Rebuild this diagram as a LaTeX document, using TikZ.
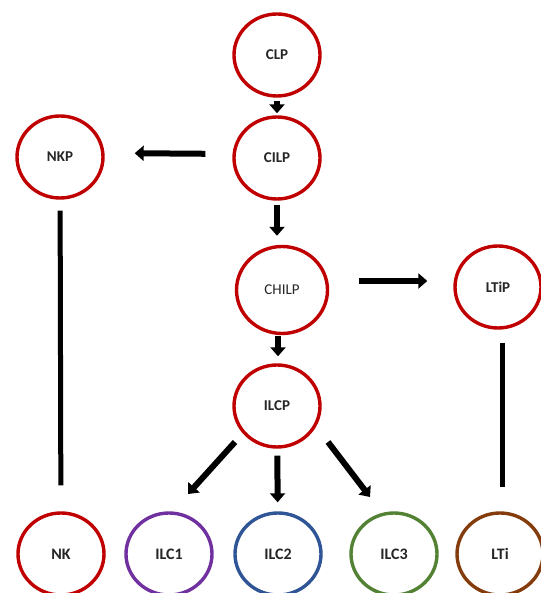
\documentclass[tikz,border=0pt]{standalone}
\usepackage{fontspec}
\setmainfont{Carlito}
\usetikzlibrary{arrows.meta,shapes.geometric}
\definecolor{cellred}{HTML}{C00000}
\definecolor{cellpurple}{HTML}{7030A0}
\definecolor{cellblue}{HTML}{2F5597}
\definecolor{cellgreen}{HTML}{548235}
\definecolor{cellbrown}{HTML}{843C0C}
\tikzset{
  cell/.style={ellipse, draw=cellred, line width=3.4pt, fill=white,
    minimum width=86pt, minimum height=82pt, inner sep=0pt,
    font=\fontsize{15}{15}\selectfont\bfseries, text=black!85},
  leaf/.style={cell, font=\fontsize{16}{16}\selectfont\bfseries},
  arr/.style={line width=6pt, draw=black,
    -{Triangle[width=15pt,length=9pt]}},
  link/.style={line width=5pt, draw=black},
}
\begin{document}
\begin{tikzpicture}[x=1pt,y=1pt]
\useasboundingbox (0,0) rectangle (540,593);
% progenitors (y measured upward from the bottom edge)
\node[cell] (CLP)   at (277,538) {CLP};
\node[cell] (CILP)  at (277,435) {CILP};
\node[cell] (NKP)   at (60,436)  {NKP};
\node[cell, minimum width=91pt, minimum height=87pt,
      font=\fontsize{15}{15}\selectfont] (CHILP) at (282,303) {CHILP};
\node[cell] (LTiP)  at (498,306) {LTiP};
\node[cell] (ILCP)  at (277,187) {ILCP};
% mature cells
\node[leaf] (NK)   at (61,39)  {NK};
\node[leaf, draw=cellpurple] (ILC1) at (169,39) {ILC1};
\node[leaf, draw=cellblue]   (ILC2) at (278,39) {ILC2};
\node[leaf, draw=cellgreen]  (ILC3) at (394,39) {ILC3};
\node[leaf, draw=cellbrown]  (LTi)  at (500,39) {LTi};
% lineage arrows
\draw[arr, shorten <=3pt, shorten >=2pt] (CLP) -- (CILP);
\draw[arr, shorten <=4pt, shorten >=9pt] (CILP.south) -- (CILP.south |- CHILP.north);
\draw[arr, shorten <=27pt, shorten >=30pt]
  ([yshift=4pt]CILP.west) -- ([yshift=4pt]NKP.east);
\draw[arr, shorten <=30pt, shorten >=26pt]
  ([yshift=9pt]CHILP.east) -- ([yshift=6pt]LTiP.west);
\draw[arr, shorten <=1pt, shorten >=7pt] ([xshift=-4pt]CHILP.south) -- ([xshift=-4pt]CHILP.south |- ILCP.north);
\draw[arr, shorten <=7pt, shorten >=9pt] (ILCP) -- (ILC2);
\draw[arr] ([shift={(-42pt,-36pt)}]ILCP.center) -- ([shift={(19pt,60pt)}]ILC1.center);
\draw[arr] ([shift={(51pt,-36pt)}]ILCP.center) -- ([shift={(-24pt,57pt)}]ILC3.center);
% direct descent lines
\draw[link, shorten <=11pt, shorten >=26pt] (NKP) -- (NK);
\draw[link, shorten <=13pt, shorten >=24pt] ([xshift=4pt]LTiP.south) -- ([xshift=2pt]LTi.north);
\end{tikzpicture}
\end{document}
